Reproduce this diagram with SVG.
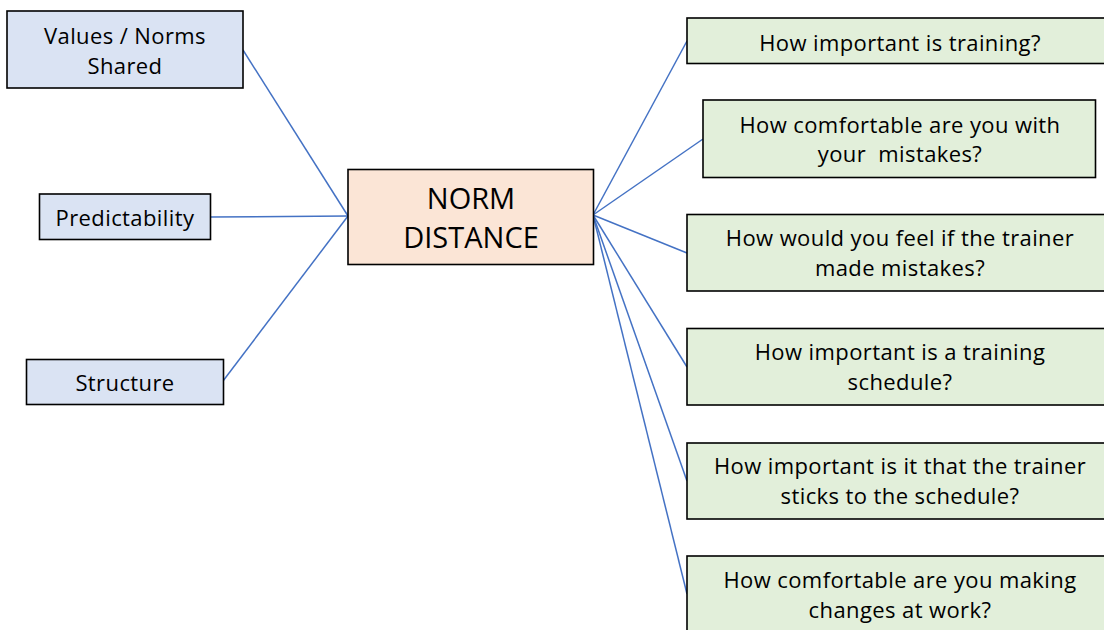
<svg xmlns="http://www.w3.org/2000/svg" width="1104" height="630" viewBox="0 0 1104 630">
  <style>
    text { font-family: "Open Sans", "Liberation Sans", sans-serif; font-size: 22px; letter-spacing: 0.4px; fill: #000; text-anchor: middle; }
    .big { font-size: 29px; letter-spacing: 0; }
    .box { stroke: #000; stroke-width: 1.6; }
    .blue { fill: #dae3f3; }
    .peach { fill: #fbe5d6; }
    .green { fill: #e2efda; }
    .link { stroke: #4472c4; stroke-width: 1.5; fill: none; }
  </style>
  <rect width="1104" height="630" fill="#fff"/>

  <g id="connectors">
    <line class="link" x1="243" y1="50" x2="348" y2="216"/>
    <line class="link" x1="210" y1="217" x2="348" y2="216"/>
    <line class="link" x1="223" y1="381" x2="348" y2="216"/>
    <line class="link" x1="593" y1="215" x2="687" y2="41"/>
    <line class="link" x1="593" y1="215" x2="703" y2="139"/>
    <line class="link" x1="593" y1="215" x2="687" y2="253"/>
    <line class="link" x1="593" y1="215" x2="687" y2="367"/>
    <line class="link" x1="593" y1="215" x2="687" y2="481"/>
    <line class="link" x1="593" y1="215" x2="687" y2="594"/>
  </g>

  <g id="values-norms">
    <rect class="box blue" x="7" y="11" width="236" height="77"/>
    <text x="125" y="44">Values / Norms</text>
    <text x="125" y="74">Shared</text>
  </g>
  <g id="predictability">
    <rect class="box blue" x="39.5" y="194" width="171" height="45.5"/>
    <text x="125" y="226">Predictability</text>
  </g>
  <g id="structure">
    <rect class="box blue" x="26.5" y="359.5" width="197" height="45"/>
    <text x="125" y="391">Structure</text>
  </g>

  <g id="norm-distance">
    <rect class="box peach" x="348" y="169.5" width="245.5" height="95"/>
    <text class="big" x="471" y="209">NORM</text>
    <text class="big" x="471" y="248">DISTANCE</text>
  </g>

  <g id="q-training">
    <rect class="box green" x="687" y="18" width="420" height="45.5"/>
    <text x="900" y="51">How important is training?</text>
  </g>
  <g id="q-own-mistakes">
    <rect class="box green" x="703" y="100" width="392.5" height="77.5"/>
    <text x="900" y="133">How comfortable are you with</text>
    <text x="900" y="162" xml:space="preserve">your  mistakes?</text>
  </g>
  <g id="q-trainer-mistakes">
    <rect class="box green" x="687" y="214.5" width="420" height="76.5"/>
    <text x="900" y="246">How would you feel if the trainer</text>
    <text x="900" y="276">made mistakes?</text>
  </g>
  <g id="q-schedule">
    <rect class="box green" x="687" y="328.5" width="420" height="76.5"/>
    <text x="900" y="360">How important is a training</text>
    <text x="900" y="390">schedule?</text>
  </g>
  <g id="q-stick-schedule">
    <rect class="box green" x="687" y="443" width="420" height="76"/>
    <text x="900" y="474">How important is it that the trainer</text>
    <text x="900" y="504">sticks to the schedule?</text>
  </g>
  <g id="q-changes">
    <rect class="box green" x="687" y="556" width="420" height="80"/>
    <text x="900" y="588">How comfortable are you making</text>
    <text x="900" y="618">changes at work?</text>
  </g>
</svg>
